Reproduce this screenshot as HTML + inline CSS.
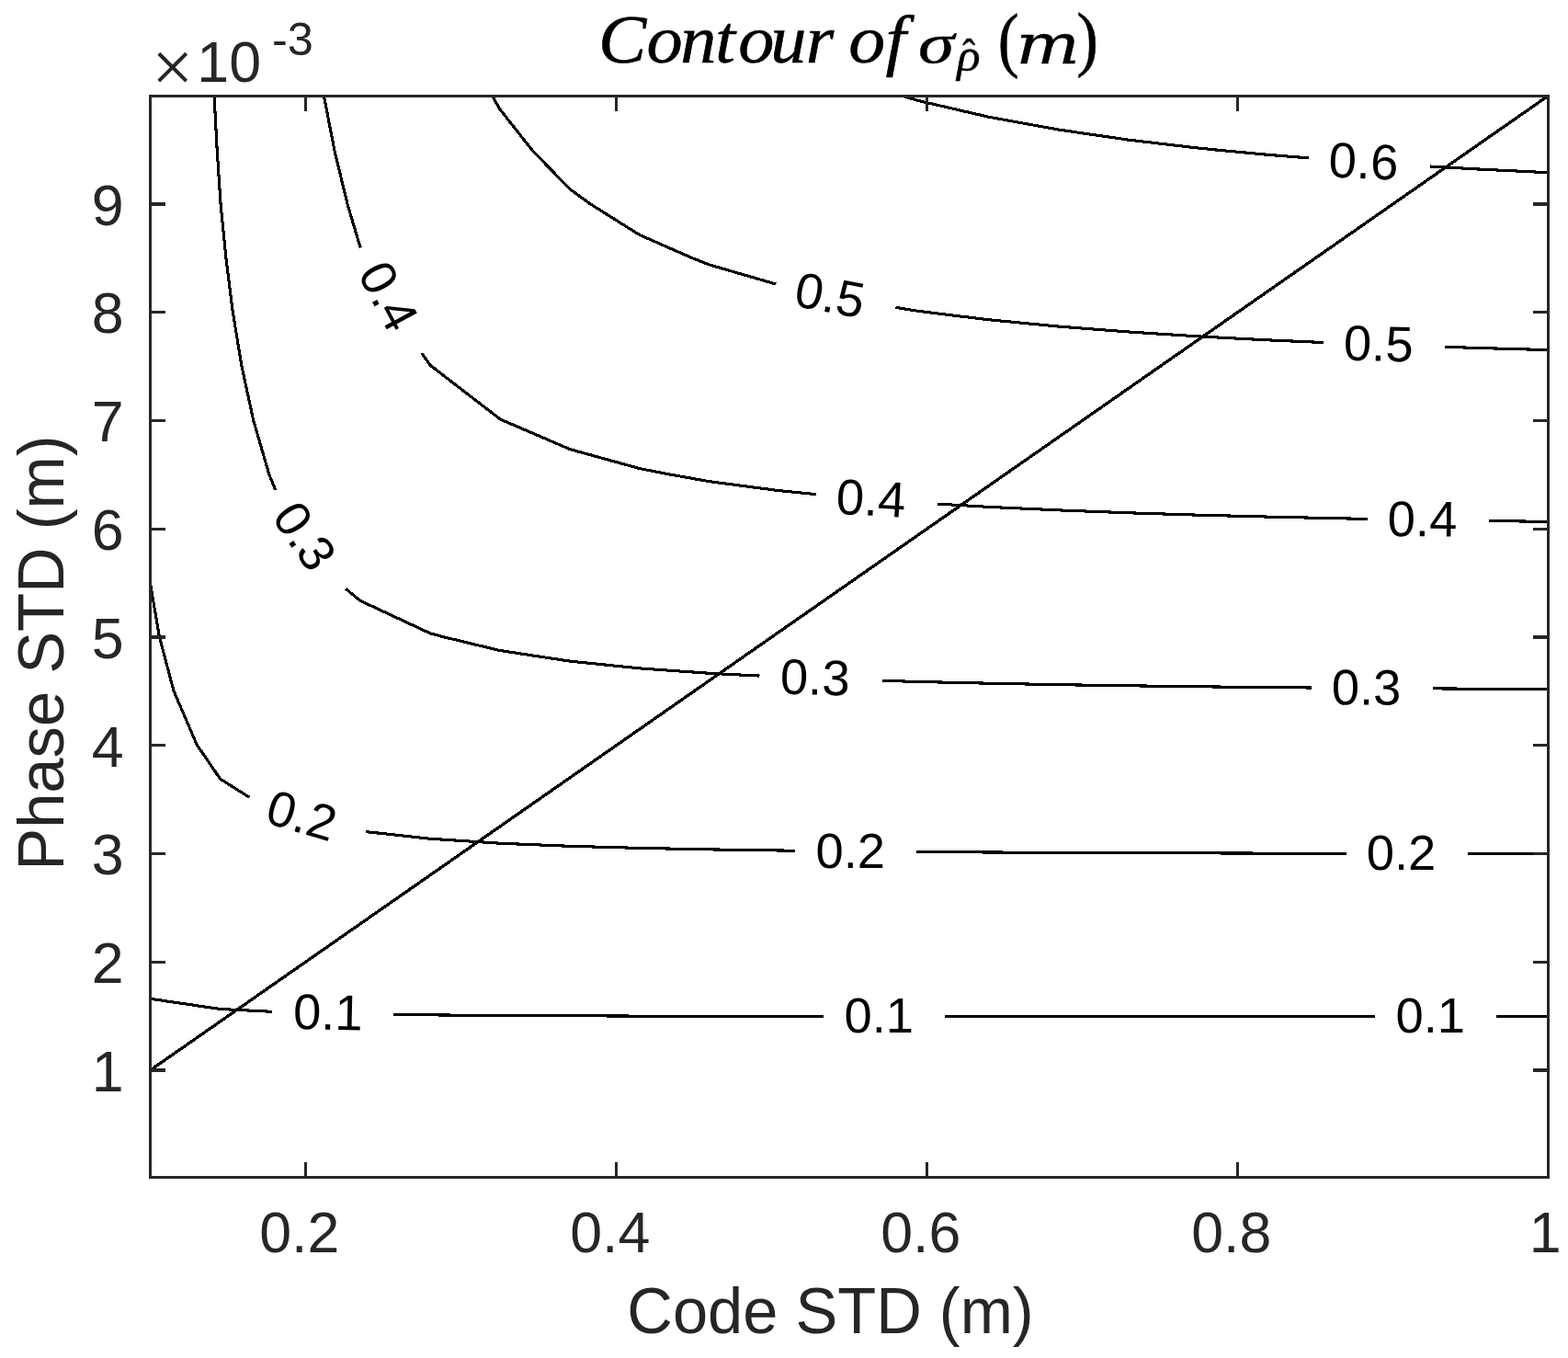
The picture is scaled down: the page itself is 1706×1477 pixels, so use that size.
<!DOCTYPE html>
<html lang="en">
<head>
<meta charset="utf-8">
<title>Contour of sigma rho (m)</title>
<style>
html,body{margin:0;padding:0;background:#ffffff;}
body{width:1706px;height:1477px;overflow:hidden;}
svg{display:block;}
</style>
</head>
<body>
<svg width="1706" height="1477" viewBox="0 0 1706 1477">
<rect x="0" y="0" width="1706" height="1477" fill="#ffffff"/>
<g fill="none" stroke="#000000" stroke-width="3.1" stroke-linejoin="round" stroke-linecap="butt" shape-rendering="crispEdges">
<path d="M163.5,1086.3 L239.6,1097.5 L295.7,1100.3"/>
<path d="M428.2,1103.4 L467.7,1103.9 L497.1,1104.1 L543.8,1104.5 L619.8,1104.8 L695.9,1105.1 L771.9,1105.2 L848.0,1105.3 L895.8,1105.4"/>
<path d="M1028.1,1105.5 L1076.1,1105.5 L1152.1,1105.6 L1228.2,1105.6 L1304.2,1105.6 L1380.3,1105.6 L1456.3,1105.6 L1495.8,1105.6"/>
<path d="M1628.1,1105.6 L1684.5,1105.6"/>
<path d="M163.5,634.5 L173.4,692.4 L188.9,751.2 L214.2,810.0 L239.6,847.2 L271.2,867.1"/>
<path d="M398.2,904.6 L467.7,912.2 L543.8,917.2 L619.8,920.3 L695.9,922.4 L771.9,923.9 L848.0,925.0 L864.9,925.2"/>
<path d="M997.2,926.4 L1000.0,926.5 L1076.1,927.0 L1152.2,927.3 L1228.2,927.7 L1233.6,927.7 L1304.2,927.9 L1380.3,928.1 L1456.3,928.3 L1465.1,928.3"/>
<path d="M1596.9,928.5 L1608.5,928.5 L1684.5,928.6"/>
<path d="M233.1,104.2 L236.2,163.1 L239.6,215.4 L240.1,221.9 L245.9,280.7 L253.3,339.5 L263.0,398.3 L275.7,457.1 L292.8,516.0 L299.7,533.0"/>
<path d="M376.4,640.4 L391.6,653.2 L467.7,688.7 L481.2,692.4 L543.8,707.5 L619.8,719.1 L695.9,726.9 L771.9,732.3 L826.5,735.1"/>
<path d="M960.2,740.3 L1000.0,741.5 L1076.1,743.2 L1152.1,744.7 L1228.2,745.8 L1304.2,746.8 L1380.3,747.6 L1426.9,748.0"/>
<path d="M1559.1,748.9 L1608.4,749.2 L1684.5,749.6"/>
<path d="M352.4,104.2 L363.8,163.1 L378.0,221.9 L391.6,267.6 L392.4,269.3"/>
<path d="M458.9,384.1 L467.7,396.8 L469.4,398.3 L543.8,455.6 L546.8,457.1 L619.8,488.5 L695.9,509.6 L728.7,516.0 L771.9,523.7 L848.0,533.7 L887.8,537.6"/>
<path d="M1020.0,548.1 L1076.1,551.4 L1152.1,554.9 L1228.2,557.8 L1304.2,560.2 L1380.3,562.1 L1456.3,563.8 L1487.7,564.4"/>
<path d="M1620.0,566.5 L1684.5,567.4"/>
<path d="M535.5,104.2 L543.8,118.7 L578.8,163.1 L619.8,205.5 L642.3,221.9 L695.9,255.5 L753.2,280.7 L771.9,288.0 L844.2,309.0"/>
<path d="M974.4,334.4 L1000.0,338.5 L1007.9,339.5 L1076.1,347.8 L1152.1,355.1 L1228.2,361.0 L1304.2,365.9 L1380.3,369.9 L1439.6,372.5"/>
<path d="M1572.2,377.3 L1608.5,378.5 L1684.5,380.6"/>
<path d="M981.2,104.2 L1000.0,109.7 L1076.1,127.3 L1152.1,141.1 L1228.2,152.2 L1304.2,161.1 L1324.0,163.1 L1380.3,168.4 L1424.0,171.9"/>
<path d="M1556.0,181.0 L1608.4,184.0 L1684.5,187.7"/>
</g>
<path d="M163.5,1164.0 L1684.5,104.2" fill="none" stroke="#000000" stroke-width="3.3" shape-rendering="crispEdges"/>
<g font-family="'Liberation Sans', sans-serif" fill="#000000">
<text transform="translate(1483.32,175.63) rotate(2.3) translate(-37.53,18.51)" font-size="54.4">0.6</text>
<text transform="translate(902.81,321.18) rotate(10.5) translate(-37.58,18.51)" font-size="54.4">0.5</text>
<text transform="translate(1499.60,373.92) rotate(1.5) translate(-37.58,18.51)" font-size="54.4">0.5</text>
<text transform="translate(422.67,322.42) rotate(62) translate(-38.00,18.51)" font-size="54.4">0.4</text>
<text transform="translate(947.97,542.27) rotate(3) translate(-38.00,18.51)" font-size="54.4">0.4</text>
<text transform="translate(1547.78,564.76) rotate(0.5) translate(-38.00,18.51)" font-size="54.4">0.4</text>
<text transform="translate(331.12,582.99) rotate(56) translate(-37.52,18.49)" font-size="54.4">0.3</text>
<text transform="translate(886.59,737.05) rotate(1.5) translate(-37.52,18.49)" font-size="54.4">0.3</text>
<text transform="translate(1486.32,747.98) rotate(0.3) translate(-37.52,18.49)" font-size="54.4">0.3</text>
<text transform="translate(327.99,887.10) rotate(16.5) translate(-37.50,18.51)" font-size="54.4">0.2</text>
<text transform="translate(924.97,925.07) translate(-37.50,18.51)" font-size="54.4">0.2</text>
<text transform="translate(1524.16,927.74) translate(-37.50,18.51)" font-size="54.4">0.2</text>
<text transform="translate(356.54,1101.34) rotate(1.2) translate(-37.50,18.51)" font-size="54.4">0.1</text>
<text transform="translate(955.88,1104.95) translate(-37.50,18.51)" font-size="54.4">0.1</text>
<text transform="translate(1555.88,1104.95) translate(-37.50,18.51)" font-size="54.4">0.1</text>
</g>
<g fill="#262626" stroke="none" shape-rendering="crispEdges">
<rect x="162" y="103" width="1524" height="3"/>
<rect x="162" y="1279" width="1524" height="3"/>
<rect x="162" y="103" width="3" height="1179"/>
<rect x="1683" y="103" width="3" height="1179"/>
<rect x="331" y="1264" width="3" height="18"/>
<rect x="331" y="103" width="3" height="18"/>
<rect x="669" y="1264" width="3" height="18"/>
<rect x="669" y="103" width="3" height="18"/>
<rect x="1007" y="1264" width="3" height="18"/>
<rect x="1007" y="103" width="3" height="18"/>
<rect x="1345" y="1264" width="3" height="18"/>
<rect x="1345" y="103" width="3" height="18"/>
<rect x="162" y="1162" width="18" height="4"/>
<rect x="1668" y="1162" width="18" height="4"/>
<rect x="162" y="1045" width="18" height="3"/>
<rect x="1668" y="1045" width="18" height="3"/>
<rect x="162" y="927" width="18" height="3"/>
<rect x="1668" y="927" width="18" height="3"/>
<rect x="162" y="809" width="18" height="3"/>
<rect x="1668" y="809" width="18" height="3"/>
<rect x="162" y="691" width="18" height="4"/>
<rect x="1668" y="691" width="18" height="4"/>
<rect x="162" y="574" width="18" height="3"/>
<rect x="1668" y="574" width="18" height="3"/>
<rect x="162" y="456" width="18" height="3"/>
<rect x="1668" y="456" width="18" height="3"/>
<rect x="162" y="338" width="18" height="3"/>
<rect x="1668" y="338" width="18" height="3"/>
<rect x="162" y="220" width="18" height="4"/>
<rect x="1668" y="220" width="18" height="4"/>
</g>
<g font-family="'Liberation Sans', sans-serif" font-size="62.7" fill="#262626">
<text x="282.2" y="1362">0.2</text>
<text x="620.2" y="1362">0.4</text>
<text x="958.2" y="1362">0.6</text>
<text x="1296.2" y="1362">0.8</text>
<text x="1663.7" y="1362">1</text>
<text x="134.7" y="1186.7" text-anchor="end">1</text>
<text x="134.7" y="1069.0" text-anchor="end">2</text>
<text x="134.7" y="951.2" text-anchor="end">3</text>
<text x="134.7" y="833.5" text-anchor="end">4</text>
<text x="134.7" y="715.7" text-anchor="end">5</text>
<text x="134.7" y="598.0" text-anchor="end">6</text>
<text x="134.7" y="480.2" text-anchor="end">7</text>
<text x="134.7" y="362.4" text-anchor="end">8</text>
<text x="134.7" y="244.7" text-anchor="end">9</text>
<text><tspan x="165.08" y="99.78" font-family="'Liberation Serif', serif" font-size="80.5">×</tspan><tspan x="214.3" y="89.1">10</tspan><tspan x="295.9" y="59.7" font-size="50.5">-3</tspan></text>
</g>
<g font-family="'Liberation Sans', sans-serif" fill="#262626">
<text transform="translate(903.36,1431.70) scale(0.9876,1.0000) translate(-223.78,18.00)" font-size="69.5">Code STD (m)</text>
<text transform="translate(50.70,709.05) rotate(-90) scale(0.9886,1.0000) translate(-240.35,18.00)" font-size="69.5">Phase STD (m)</text>
</g>
<g font-family="'Liberation Serif', serif" fill="#000000" stroke="#000000" stroke-width="0.5" stroke-linejoin="round">
<text transform="translate(0,68.0) scale(1.06,1.0)" x="614.05 663.67 698.27 734.24 757.77 790.90 827.06" y="0" font-size="74" font-style="italic">Contour</text>
<text transform="translate(0,68.0) scale(1.08,1.0)" x="854.83 892.22" y="0" font-size="74" font-style="italic">of</text>
<text transform="translate(1021.00,52.51) scale(1.0761,0.8359) translate(-20.50,18.50)" font-size="74" font-style="italic">σ</text>
<text transform="translate(1052.63,70.84) scale(1.0181,0.9680) translate(-11.06,6.72)" font-size="52" font-style="italic">ρ</text>
<text transform="translate(1053.97,45.42) scale(0.8007,0.8888) translate(-8.50,33.00)" font-size="52" font-style="normal">ˆ</text>
<text transform="translate(1097.54,49.95) scale(0.9267,1.0560) translate(-12.63,17.92)" font-size="74" font-style="normal">(</text>
<text transform="translate(1139.92,52.65) scale(1.1797,0.9707) translate(-29.18,16.50)" font-family="'DejaVu Serif', 'Liberation Serif', serif" font-size="62" font-style="italic">m</text>
<text transform="translate(1182.52,49.32) scale(0.9617,1.0588) translate(-11.68,17.93)" font-size="74" font-style="normal">)</text>
</g>
</svg>
</body>
</html>
